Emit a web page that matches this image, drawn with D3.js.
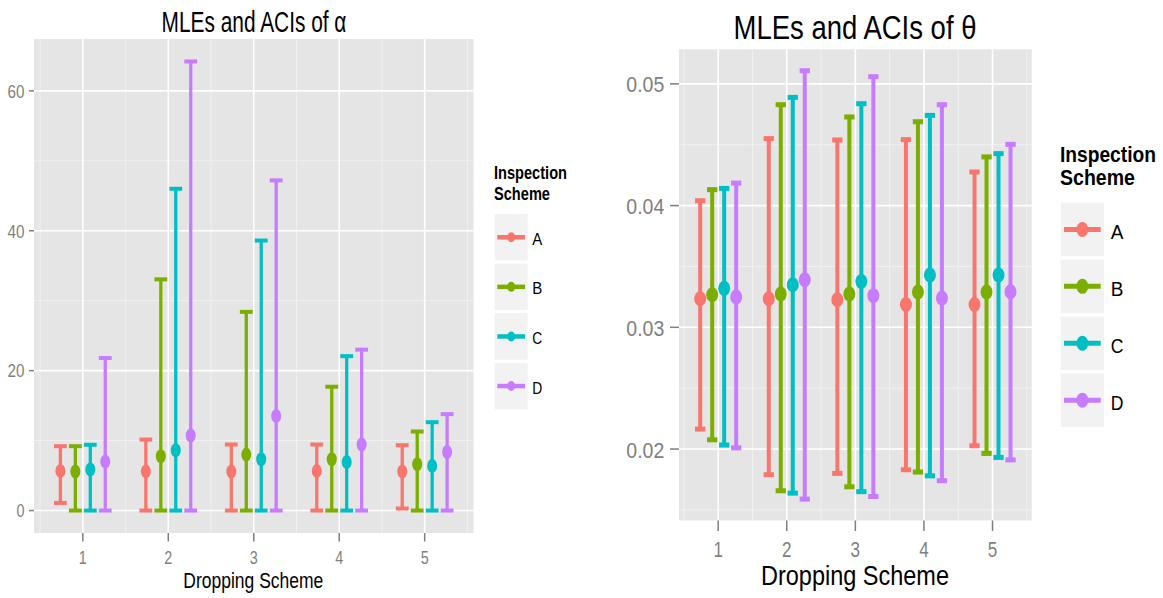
<!DOCTYPE html>
<html><head><meta charset="utf-8">
<script src="https://d3js.org/d3.v7.min.js"></script>
<style>body{margin:0;background:#fff}svg{display:block}text{font-family:"Liberation Sans",Arial,sans-serif}</style>
</head><body>
<script>
// ---------- data ----------
const dropping = [1, 2, 3, 4, 5];
const schemes = ["A", "B", "C", "D"];
const colors = ["#F8766D", "#7CAE00", "#00BFC4", "#C77CFF"];

// alpha: rows = scheme A..D, columns = dropping scheme 1..5
const alphaMLE = [
  [5.67, 5.60, 5.58, 5.67, 5.58],
  [5.58, 7.77, 8.00, 7.34, 6.62],
  [5.87, 8.63, 7.34, 6.95, 6.38],
  [7.00, 10.73, 13.50, 9.44, 8.38]
];
const alphaLower = [
  [1.09, 0, 0, 0, 0.29],
  [0, 0, 0, 0, 0],
  [0, 0, 0, 0, 0],
  [0, 0, 0, 0, 0]
];
const alphaUpper = [
  [9.2, 10.15, 9.44, 9.44, 9.34],
  [9.2, 33.05, 28.4, 17.7, 11.3],
  [9.4, 46.0, 38.6, 22.07, 12.63],
  [21.8, 64.2, 47.2, 23.0, 13.78]
];
const alphaTicks = [0, 20, 40, 60];

const thetaMLE = [
  [0.03235, 0.03235, 0.03227, 0.03188, 0.03188],
  [0.03268, 0.03274, 0.03274, 0.03290, 0.03290],
  [0.03320, 0.03350, 0.03377, 0.03430, 0.03430],
  [0.03249, 0.03391, 0.03260, 0.03240, 0.03292]
];
const thetaLower = [
  [0.02164, 0.01789, 0.01800, 0.01830, 0.02027],
  [0.02076, 0.01657, 0.01690, 0.01811, 0.01964],
  [0.02033, 0.01638, 0.01650, 0.01780, 0.01931],
  [0.02010, 0.01589, 0.01610, 0.01740, 0.01911]
];
const thetaUpper = [
  [0.04040, 0.04550, 0.04539, 0.04542, 0.04276],
  [0.04131, 0.04829, 0.04728, 0.04689, 0.04400],
  [0.04141, 0.04889, 0.04837, 0.04741, 0.04427],
  [0.04185, 0.05108, 0.05059, 0.04829, 0.04503]
];
const thetaTicks = [0.02, 0.03, 0.04, 0.05];

// ---------- drawing ----------
const W = 1163, H = 598;
const svg = d3.select("body").append("svg").attr("width", W).attr("height", H);

// text squeezed horizontally to a target width (the reference text is narrow)
function txt(g, s, x, y, size, width, anchor, fill, weight) {
  const t = g.append("text").attr("x", 0).attr("y", 0)
    .attr("font-size", size).attr("fill", fill || "#000")
    .attr("font-weight", weight || "normal")
    .attr("text-anchor", anchor || "start")
    .text(s);
  const nat = t.node().getComputedTextLength() || width;
  t.attr("transform", `translate(${x},${y}) scale(${width / nat},1)`);
  return t;
}

function panel(cfg) {
  const g = svg.append("g");
  const dodge = 0.7, capW = 0.15, n = schemes.length;
  const off = i => (i - (n - 1) / 2) * dodge / n;
  const xmin = 1 + off(0) - capW / 2, xmax = 5 + off(n - 1) + capW / 2;
  const xe = (xmax - xmin) * 0.05;
  const x = d3.scaleLinear().domain([xmin - xe, xmax + xe]).range([cfg.x0, cfg.x1]);
  const all = cfg.lower.flat().concat(cfg.upper.flat());
  const ymin = d3.min(all), ymax = d3.max(all), ye = (ymax - ymin) * 0.05;
  const y = d3.scaleLinear().domain([ymin - ye, ymax + ye]).range([cfg.y1, cfg.y0]);

  g.append("rect").attr("x", cfg.x0).attr("y", cfg.y0)
    .attr("width", cfg.x1 - cfg.x0).attr("height", cfg.y1 - cfg.y0).attr("fill", "#E5E5E5");
  // minor grid
  const xMinor = d3.range(0.5, 6, 1);
  const yMinor = cfg.ticks.slice(0, -1).map((t, i) => (t + cfg.ticks[i + 1]) / 2);
  const step = cfg.ticks[1] - cfg.ticks[0];
  yMinor.unshift(cfg.ticks[0] - step / 2); yMinor.push(cfg.ticks[cfg.ticks.length - 1] + step / 2);
  const yd = y.domain();
  g.selectAll(null).data(xMinor).join("line")
    .attr("x1", d => x(d)).attr("x2", d => x(d)).attr("y1", cfg.y0).attr("y2", cfg.y1)
    .attr("stroke", "#F2F2F2").attr("stroke-width", 0.9);
  g.selectAll(null).data(yMinor.filter(v => v > yd[0] && v < yd[1])).join("line")
    .attr("y1", d => y(d)).attr("y2", d => y(d)).attr("x1", cfg.x0).attr("x2", cfg.x1)
    .attr("stroke", "#F2F2F2").attr("stroke-width", 0.9);
  // major grid
  g.selectAll(null).data(dropping).join("line")
    .attr("x1", d => x(d)).attr("x2", d => x(d)).attr("y1", cfg.y0).attr("y2", cfg.y1)
    .attr("stroke", "#fff").attr("stroke-width", 1.6);
  g.selectAll(null).data(cfg.ticks).join("line")
    .attr("y1", d => y(d)).attr("y2", d => y(d)).attr("x1", cfg.x0).attr("x2", cfg.x1)
    .attr("stroke", "#fff").attr("stroke-width", 1.6);

  // errorbars and points
  schemes.forEach((s, i) => {
    const col = colors[i];
    dropping.forEach((d, j) => {
      const cx = x(d + off(i));
      const lo = cfg.lower[i][j], hi = cfg.upper[i][j], m = cfg.mle[i][j];
      g.append("line").attr("x1", cx).attr("x2", cx).attr("y1", y(lo)).attr("y2", y(hi))
        .attr("stroke", col).attr("stroke-width", cfg.lw);
      [lo, hi].forEach(v => {
        g.append("line").attr("x1", x(d + off(i) - capW / 2)).attr("x2", x(d + off(i) + capW / 2))
          .attr("y1", y(v)).attr("y2", y(v)).attr("stroke", col).attr("stroke-width", cfg.capLw);
      });
      g.append("ellipse").attr("cx", cx).attr("cy", y(m)).attr("rx", cfg.rx).attr("ry", cfg.ry).attr("fill", col);
    });
  });

  // axes ticks
  g.selectAll(null).data(cfg.ticks).join("line")
    .attr("x1", cfg.x0 - cfg.yTickLen).attr("x2", cfg.x0).attr("y1", d => y(d)).attr("y2", d => y(d))
    .attr("stroke", "#7F7F7F").attr("stroke-width", 1.5);
  g.selectAll(null).data(dropping).join("line")
    .attr("x1", d => x(d)).attr("x2", d => x(d)).attr("y1", cfg.y1).attr("y2", cfg.y1 + cfg.xTickLen)
    .attr("stroke", "#7F7F7F").attr("stroke-width", 1.5);
  cfg.ticks.forEach((t, k) => {
    txt(g, cfg.tickFmt(t), cfg.yLabX, y(t) + cfg.yLabDy, cfg.tickSize, cfg.yLabW[k], "end", "#7F7F7F");
  });
  dropping.forEach(d => {
    txt(g, String(d), x(d), cfg.xLabY, cfg.tickSize, cfg.xLabW, "middle", "#7F7F7F");
  });
  // titles
  txt(g, cfg.title, cfg.titleX, cfg.titleY, cfg.titleSize, cfg.titleW, "middle", "#000");
  txt(g, "Dropping Scheme", cfg.xTitleX, cfg.xTitleY, cfg.xTitleSize, cfg.xTitleW, "middle", "#000");

  // legend
  const L = cfg.leg;
  txt(g, "Inspection", L.x, L.t1y, L.tSize, L.t1w, "start", "#000", "bold");
  txt(g, "Scheme", L.x, L.t2y, L.tSize, L.t2w, "start", "#000", "bold");
  schemes.forEach((s, i) => {
    const by = L.by + i * L.step;
    g.append("rect").attr("x", L.bx).attr("y", by).attr("width", L.bw).attr("height", L.bh).attr("fill", "#F2F2F2");
    const cy = by + L.bh / 2;
    g.append("line").attr("x1", L.bx + L.pad).attr("x2", L.bx + L.bw - L.pad).attr("y1", cy).attr("y2", cy)
      .attr("stroke", colors[i]).attr("stroke-width", L.lw);
    g.append("ellipse").attr("cx", L.bx + L.bw / 2).attr("cy", cy).attr("rx", L.rx).attr("ry", L.ry).attr("fill", colors[i]);
    txt(g, s, L.lx, cy + L.ldy, L.lSize, L.lw2[i], "start", "#000");
  });
}

panel({
  x0: 34, x1: 473.5, y0: 39, y1: 533,
  mle: alphaMLE, lower: alphaLower, upper: alphaUpper, ticks: alphaTicks,
  tickFmt: d => String(d), lw: 3.3, capLw: 4, rx: 5, ry: 7,
  yTickLen: 5, xTickLen: 8.5, tickSize: 18.5, yLabX: 24.5, yLabDy: 6.8, yLabW: [8, 17, 17, 17],
  xLabY: 563.5, xLabW: 8,
  title: "MLEs and ACIs of α", titleX: 254, titleY: 31.7, titleSize: 30, titleW: 185,
  xTitleX: 253.3, xTitleY: 588, xTitleSize: 22, xTitleW: 140,
  leg: { x: 494, t1y: 179.3, t2y: 200, tSize: 19, t1w: 73, t2w: 56,
         bx: 494.7, by: 214, bw: 33, bh: 46.5, step: 49.6, pad: 2.6, lw: 4.5, rx: 4, ry: 5,
         lx: 532.3, ldy: 7.5, lSize: 17, lw2: [10, 10, 10, 10] }
});

panel({
  x0: 679, x1: 1031.7, y0: 49.3, y1: 520.5,
  mle: thetaMLE, lower: thetaLower, upper: thetaUpper, ticks: thetaTicks,
  tickFmt: d => d.toFixed(2), lw: 4, capLw: 5, rx: 6, ry: 7.5,
  yTickLen: 9, xTickLen: 10.5, tickSize: 22, yLabX: 664.3, yLabDy: 8.5, yLabW: [38, 38, 38, 38],
  xLabY: 556.7, xLabW: 9.5,
  title: "MLEs and ACIs of θ", titleX: 855, titleY: 39.3, titleSize: 32.5, titleW: 243,
  xTitleX: 855, xTitleY: 585, xTitleSize: 28, xTitleW: 188,
  leg: { x: 1060, t1y: 161.7, t2y: 185, tSize: 21.5, t1w: 96, t2w: 75,
         bx: 1060.7, by: 202.7, bw: 43.3, bh: 53.5, step: 56.9, pad: 3.3, lw: 5, rx: 6, ry: 7.5,
         lx: 1110.7, ldy: 9.5, lSize: 21, lw2: [12.7, 12.7, 12.7, 12.7] }
});
</script>
</body></html>
